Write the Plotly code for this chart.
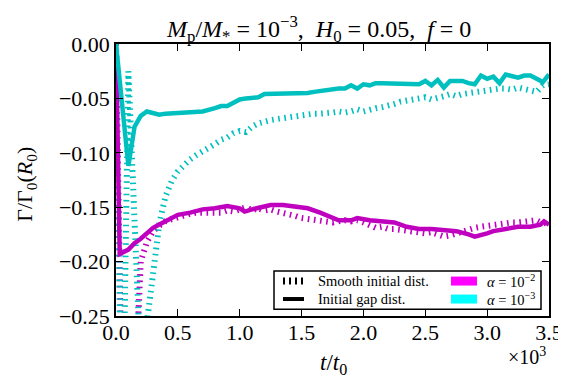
import plotly.graph_objects as go

# ---------------- data (t in units of 10^3 t0) ----------------
t_m_gap = [0, 0.03, 0.1, 0.15, 0.2, 0.25, 0.3, 0.35, 0.4, 0.45, 0.5, 0.6, 0.7, 0.8, 0.9, 1.0, 1.04, 1.1,
           1.15, 1.25, 1.35, 1.45, 1.55, 1.65, 1.75, 1.8, 1.9, 1.95, 2.05, 2.15, 2.25, 2.35, 2.45, 2.55,
           2.65, 2.75, 2.85, 2.9, 3.0, 3.05, 3.15, 3.25, 3.35, 3.43, 3.46, 3.5]
g_m_gap = [0.0, -0.193, -0.189, -0.183, -0.179, -0.174, -0.169, -0.166, -0.163, -0.160, -0.157, -0.155,
           -0.152, -0.151, -0.149, -0.151, -0.154, -0.152, -0.151, -0.148, -0.148, -0.149, -0.151, -0.155,
           -0.160, -0.162, -0.162, -0.160, -0.162, -0.163, -0.164, -0.168, -0.170, -0.170, -0.171, -0.172,
           -0.175, -0.177, -0.174, -0.172, -0.170, -0.168, -0.168, -0.166, -0.163, -0.166]

t_m_smooth = [0, 0.05, 0.15, 0.2, 0.25, 0.3, 0.35, 0.4, 0.45, 0.5, 0.55, 0.6, 0.65, 0.7, 0.75, 0.8, 0.85,
              0.9, 0.95, 1.0, 1.05, 1.1, 1.15, 1.2, 1.25, 1.3, 1.35, 1.4, 1.45, 1.5, 1.55, 1.6, 1.65, 1.7,
              1.75, 1.8, 1.85, 1.9, 1.95, 2.0, 2.05, 2.1, 2.15, 2.2, 2.25, 2.3, 2.35, 2.4, 2.45, 2.5, 2.55,
              2.6, 2.65, 2.7, 2.75, 2.8, 2.85, 2.9, 2.95, 3.0, 3.05, 3.1, 3.15, 3.2, 3.25, 3.3, 3.35, 3.4,
              3.45, 3.5]
g_m_smooth = [0.0, -0.35, -0.33, -0.200, -0.182, -0.172, -0.167, -0.163, -0.161, -0.159, -0.158, -0.156,
              -0.155, -0.155, -0.154, -0.154, -0.155, -0.153, -0.154, -0.152, -0.150, -0.153, -0.151,
              -0.153, -0.152, -0.154, -0.155, -0.156, -0.158, -0.160, -0.161, -0.162, -0.163, -0.163,
              -0.164, -0.163, -0.162, -0.163, -0.162, -0.164, -0.167, -0.169, -0.168, -0.170, -0.170,
              -0.171, -0.172, -0.172, -0.173, -0.174, -0.173, -0.175, -0.177, -0.176, -0.174, -0.172,
              -0.170, -0.169, -0.168, -0.167, -0.166, -0.165, -0.165, -0.164, -0.164, -0.163, -0.163,
              -0.162, -0.165, -0.163]

t_c_gap = [0, 0.1, 0.15, 0.2, 0.25, 0.3, 0.35, 0.4, 0.5, 0.6, 0.7, 0.8, 0.85, 0.9, 0.95, 1.0, 1.05, 1.1,
           1.15, 1.2, 1.25, 1.3, 1.35, 1.4, 1.45, 1.5, 1.55, 1.6, 1.65, 1.7, 1.75, 1.8, 1.85, 1.9, 1.95,
           2.0, 2.05, 2.1, 2.15, 2.2, 2.25, 2.3, 2.35, 2.4, 2.45, 2.5, 2.55, 2.6, 2.65, 2.7, 2.75, 2.8,
           2.85, 2.9, 2.95, 3.0, 3.05, 3.1, 3.15, 3.2, 3.25, 3.3, 3.35, 3.4, 3.45, 3.5]
g_c_gap = [0.0, -0.112, -0.076, -0.066, -0.062, -0.064, -0.065, -0.064, -0.063, -0.063, -0.062, -0.059,
           -0.057, -0.057, -0.054, -0.051, -0.050, -0.049, -0.049, -0.046, -0.046, -0.046, -0.045, -0.045,
           -0.046, -0.046, -0.045, -0.044, -0.043, -0.043, -0.042, -0.041, -0.041, -0.038, -0.041, -0.037,
           -0.038, -0.036, -0.036, -0.036, -0.036, -0.036, -0.036, -0.036, -0.037, -0.034, -0.038, -0.033,
           -0.040, -0.034, -0.034, -0.034, -0.036, -0.037, -0.029, -0.032, -0.030, -0.036, -0.028, -0.030,
           -0.031, -0.029, -0.029, -0.032, -0.035, -0.028]

t_c_smooth = [0, 0.05, 0.1, 0.2, 0.3, 0.35, 0.4, 0.45, 0.5, 0.55, 0.6, 0.65, 0.7, 0.75, 0.8, 0.85, 0.9,
              0.95, 1.0, 1.05, 1.1, 1.15, 1.2, 1.25, 1.3, 1.35, 1.4, 1.45, 1.5, 1.55, 1.6, 1.65, 1.7, 1.75,
              1.8, 1.85, 1.9, 1.95, 2.0, 2.05, 2.1, 2.15, 2.2, 2.25, 2.3, 2.35, 2.4, 2.45, 2.5, 2.55, 2.6,
              2.65, 2.7, 2.75, 2.8, 2.85, 2.9, 2.95, 3.0, 3.05, 3.1, 3.15, 3.2, 3.25, 3.3, 3.35, 3.4, 3.45,
              3.5]
g_c_smooth = [0.0, -0.40, -0.025, -0.30, -0.211, -0.165, -0.140, -0.126, -0.117, -0.111, -0.106, -0.102,
              -0.099, -0.096, -0.092, -0.088, -0.086, -0.082, -0.080, -0.081, -0.076, -0.073, -0.071,
              -0.070, -0.069, -0.068, -0.067, -0.066, -0.066, -0.065, -0.064, -0.064, -0.064, -0.063,
              -0.062, -0.063, -0.062, -0.060, -0.062, -0.060, -0.059, -0.058, -0.057, -0.055, -0.053,
              -0.052, -0.051, -0.050, -0.049, -0.051, -0.050, -0.048, -0.046, -0.048, -0.046, -0.045,
              -0.044, -0.043, -0.042, -0.042, -0.041, -0.041, -0.042, -0.040, -0.041, -0.042, -0.044,
              -0.038, -0.037]

x_ticks = [0.0, 0.5, 1.0, 1.5, 2.0, 2.5, 3.0, 3.5]
y_ticks = [0.00, -0.05, -0.10, -0.15, -0.20, -0.25]

MAG_LINE = "#bf00bf"
CYA_LINE = "#00bfbf"
MAG_PATCH = "#ff00ff"
CYA_PATCH = "#00ffff"
FONT = "Liberation Serif"
DOT = "1.6px,4.6px"

fig = go.Figure()
fig.add_trace(go.Scatter(x=t_m_smooth, y=g_m_smooth, mode="lines",
                         line=dict(color=MAG_LINE, width=6, dash=DOT), showlegend=False))
fig.add_trace(go.Scatter(x=t_c_smooth, y=g_c_smooth, mode="lines",
                         line=dict(color=CYA_LINE, width=6, dash=DOT), showlegend=False))
fig.add_trace(go.Scatter(x=t_m_gap, y=g_m_gap, mode="lines",
                         line=dict(color=MAG_LINE, width=4.5), showlegend=False))
fig.add_trace(go.Scatter(x=t_c_gap, y=g_c_gap, mode="lines",
                         line=dict(color=CYA_LINE, width=4.5), showlegend=False))

axis_common = dict(showgrid=False, zeroline=False, showline=True, linecolor="black", linewidth=1.5,
                   mirror="ticks", ticks="inside", ticklen=7, tickwidth=1, tickcolor="black",
                   tickfont=dict(family=FONT, size=22, color="black"))
fig.update_xaxes(range=[0, 3.5], tickvals=x_ticks, ticktext=[f"{v:.1f}" for v in x_ticks],
                 ticklabelstandoff=-4, **axis_common)
fig.update_yaxes(range=[-0.25, 0.0], tickvals=y_ticks,
                 ticktext=[("\u2212" if v < 0 else "") + f"{abs(v):.2f}" for v in y_ticks], **axis_common)

# pixel -> paper helpers for decorations
L, R, T, B = 108, 541, 36, 308.5
def px(x):
    return (x - L) / (R - L)
def py(y):
    return (B - y) / (B - T)

ann = []
ann.append(dict(x=px(310), y=py(21), xref="paper", yref="paper", showarrow=False,
                text="<i>M</i><sub>p</sub>/<i>M</i><sub>*</sub> = 10<sup>\u22123</sup>,  <i>H</i><sub>0</sub> = 0.05,  <i>f</i> = 0",
                font=dict(family=FONT, size=24, color="black"), xanchor="center", yanchor="middle"))
ann.append(dict(x=px(18), y=py(177), xref="paper", yref="paper", showarrow=False, textangle=-90,
                text="\u0393/\u0393<sub>0</sub>(<i>R</i><sub>0</sub>)",
                font=dict(family=FONT, size=22, color="black"), xanchor="center", yanchor="middle"))
ann.append(dict(x=px(325), y=py(357), xref="paper", yref="paper", showarrow=False,
                text="<i>t</i>/<i>t</i><sub>0</sub>",
                font=dict(family=FONT, size=23, color="black"), xanchor="center", yanchor="middle"))
ann.append(dict(x=px(540), y=py(349), xref="paper", yref="paper", showarrow=False,
                text="\u00d710<sup>3</sup>",
                font=dict(family=FONT, size=20, color="black"), xanchor="right", yanchor="middle"))

# legend (manual)
shapes = []
shapes.append(dict(type="rect", xref="paper", yref="paper", x0=px(266), x1=px(533), y0=py(301.7), y1=py(263.3),
                   line=dict(color="black", width=1.5), fillcolor="white", layer="above"))
shapes.append(dict(type="line", xref="paper", yref="paper", x0=px(275), x1=px(296), y0=py(273.5), y1=py(273.5),
                   line=dict(color="black", width=7, dash="2px,4px"), layer="above"))
shapes.append(dict(type="line", xref="paper", yref="paper", x0=px(275), x1=px(296), y0=py(291.5), y1=py(291.5),
                   line=dict(color="black", width=4), layer="above"))
shapes.append(dict(type="rect", xref="paper", yref="paper", x0=px(443), x1=px(469), y0=py(278), y1=py(269),
                   line=dict(width=0), fillcolor=MAG_PATCH, layer="above"))
shapes.append(dict(type="rect", xref="paper", yref="paper", x0=px(443), x1=px(469), y0=py(296), y1=py(287),
                   line=dict(width=0), fillcolor=CYA_PATCH, layer="above"))
lf = dict(family=FONT, size=14.5, color="black")
ann.append(dict(x=px(308), y=py(273), xref="paper", yref="paper", showarrow=False, text="Smooth initial dist.",
                font=lf, xanchor="left", yanchor="middle"))
ann.append(dict(x=px(308), y=py(291), xref="paper", yref="paper", showarrow=False, text="Initial gap dist.",
                font=lf, xanchor="left", yanchor="middle"))
ann.append(dict(x=px(477), y=py(273), xref="paper", yref="paper", showarrow=False,
                text="<i>\u03b1</i> = 10<sup>\u22122</sup>", font=lf, xanchor="left", yanchor="middle"))
ann.append(dict(x=px(477), y=py(291), xref="paper", yref="paper", showarrow=False,
                text="<i>\u03b1</i> = 10<sup>\u22123</sup>", font=lf, xanchor="left", yanchor="middle"))

fig.update_layout(width=566, height=380, margin=dict(l=L, r=566 - R, t=T, b=380 - B),
                  paper_bgcolor="white", plot_bgcolor="white", showlegend=False,
                  annotations=ann, shapes=shapes, font=dict(family=FONT, color="black"))

fig.write_html("out.html")
